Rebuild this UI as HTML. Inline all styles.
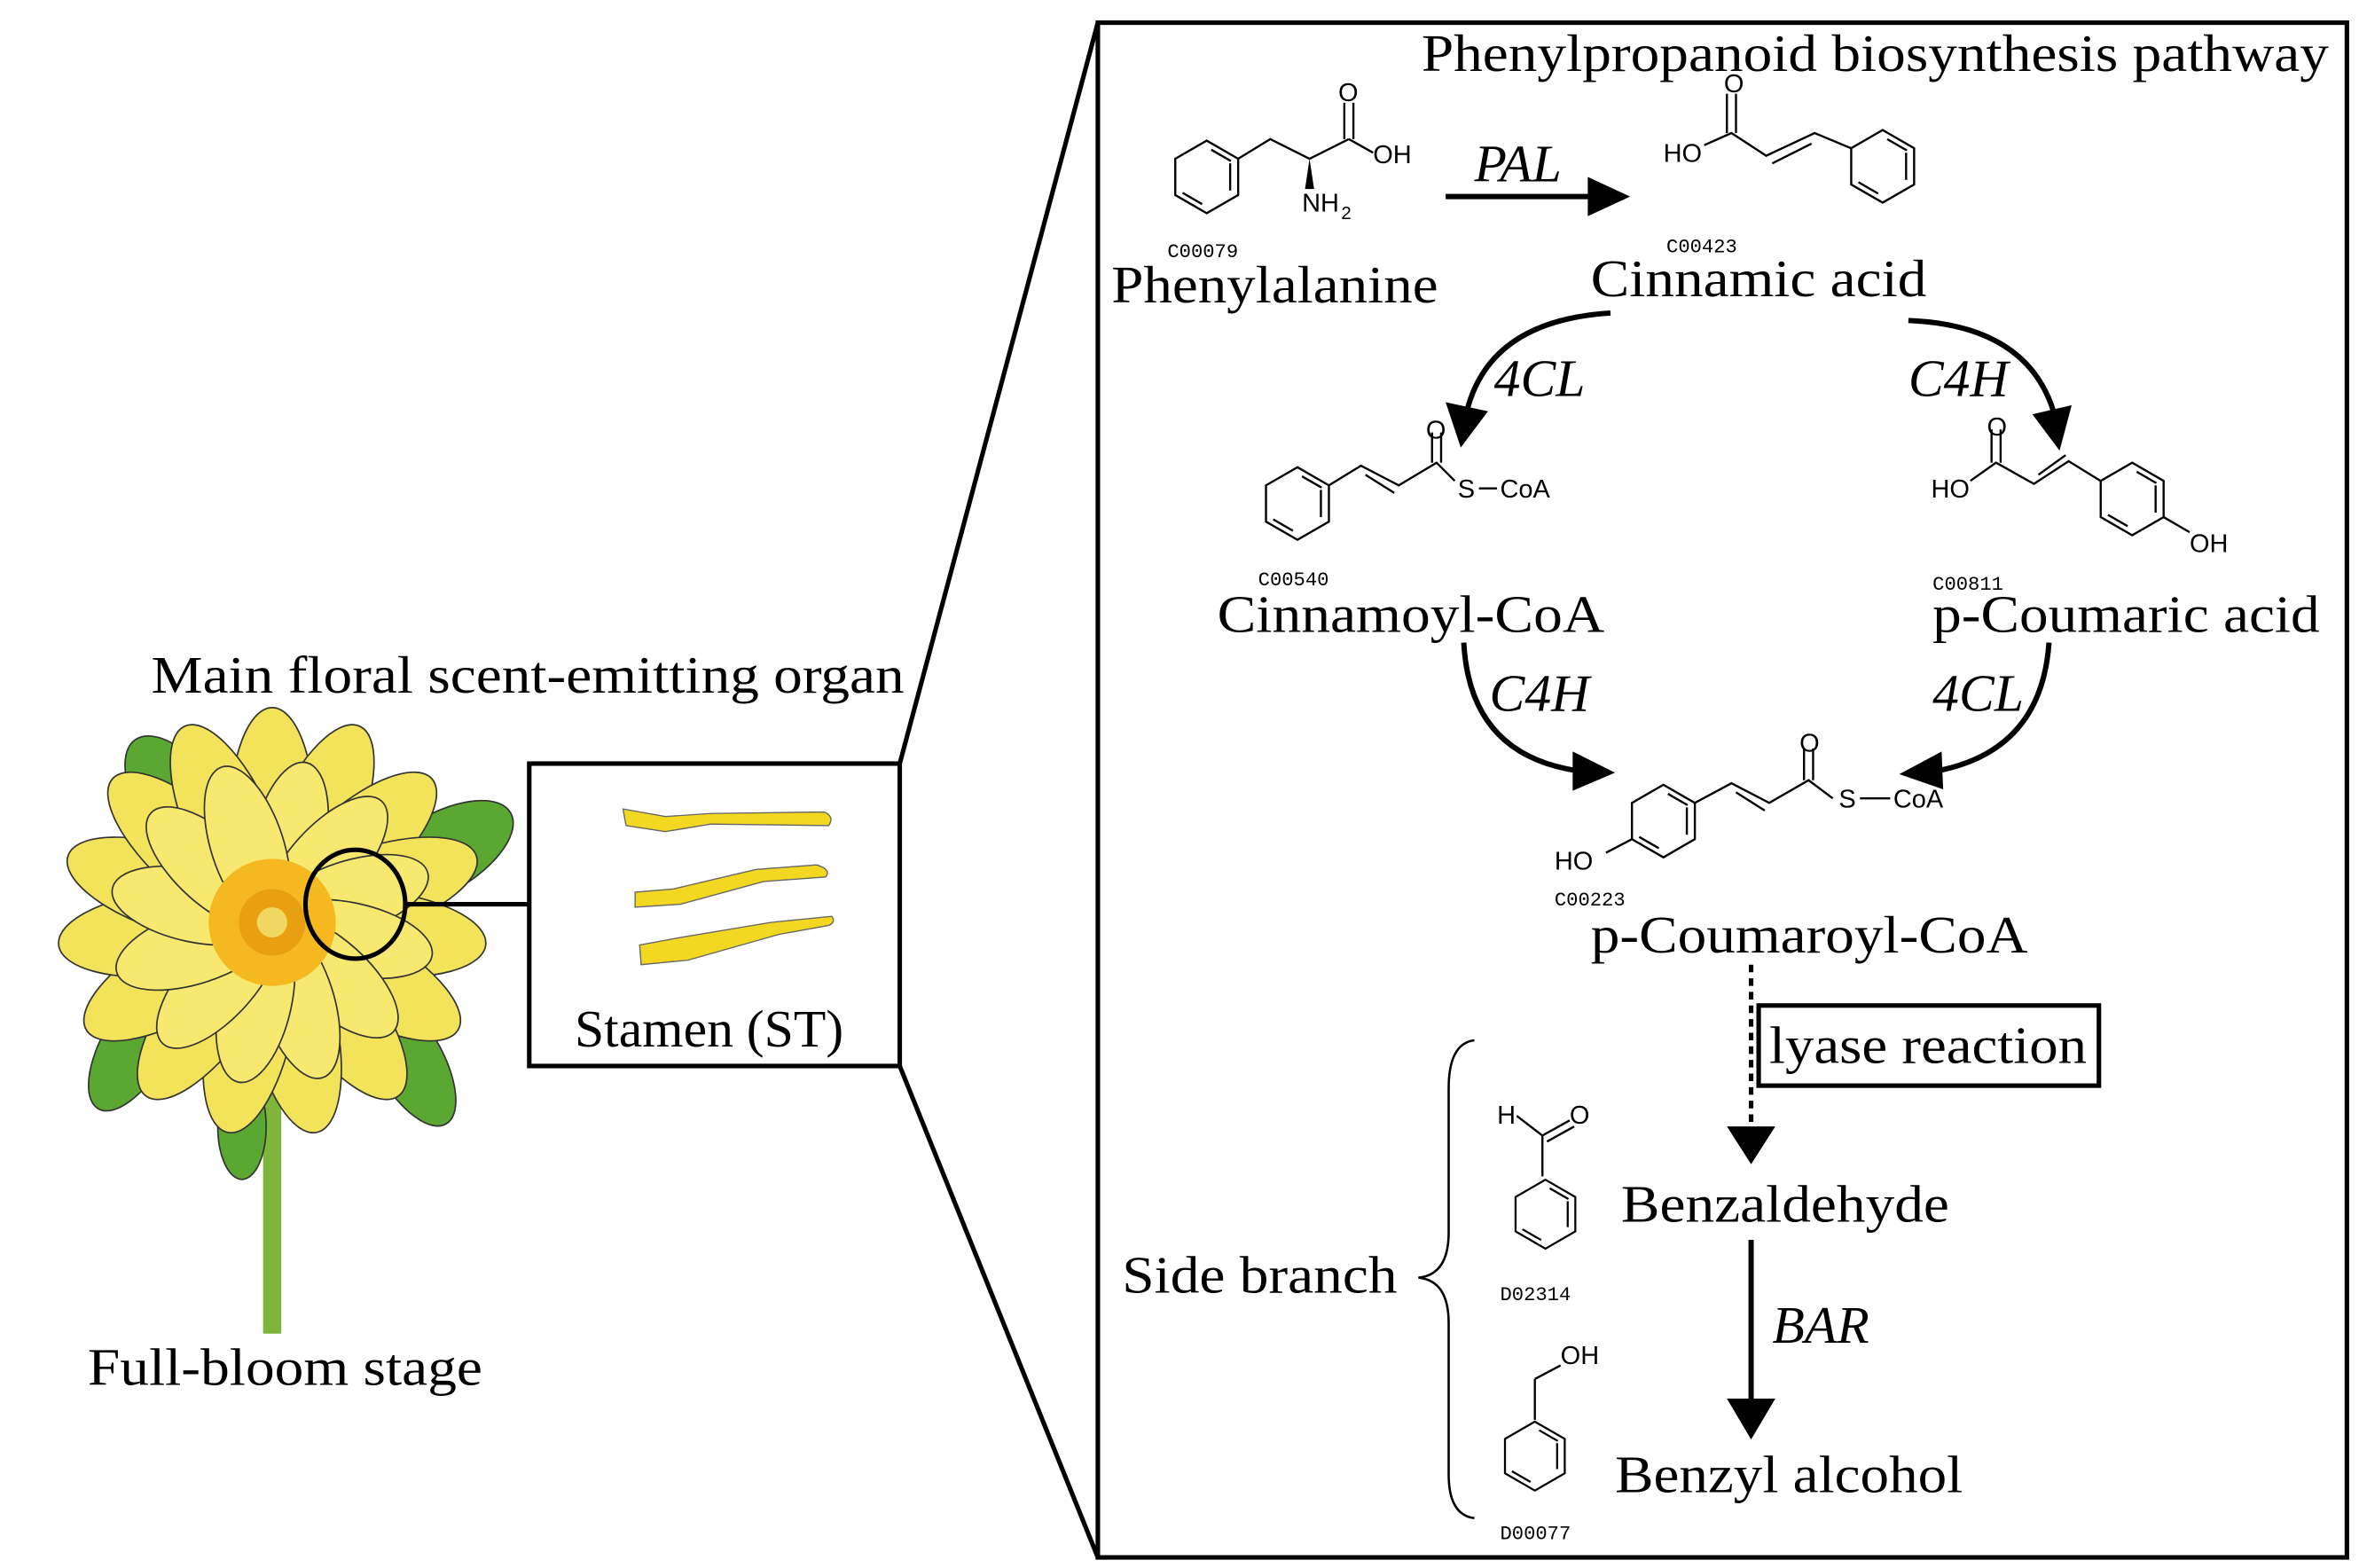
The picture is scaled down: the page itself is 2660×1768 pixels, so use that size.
<!DOCTYPE html>
<html><head><meta charset="utf-8"><style>
html,body{margin:0;padding:0;background:#fff;}
svg{display:block;}
.t{font-family:"Liberation Serif",serif;font-size:35px;fill:#000;}
.i{font-family:"Liberation Serif",serif;font-style:italic;font-size:35px;fill:#000;}
.a{font-family:"Liberation Sans",sans-serif;font-size:17px;fill:#000;}
.m{font-family:"Liberation Mono",monospace;font-size:13px;fill:#000;}
.b{stroke:#000;stroke-width:1.4;fill:none;}
</style></head><body>
<svg width="2660" height="1768" viewBox="0 0 1560 1037" preserveAspectRatio="none" xmlns="http://www.w3.org/2000/svg">
<defs>
<g id="bz" class="b">
<polygon points="0,-24 20.8,-12 20.8,12 0,24 -20.8,12 -20.8,-12"/>
<line x1="3" y1="-18" x2="16" y2="-10.5"/>
<line x1="15.5" y1="-9" x2="15.5" y2="9"/>
<line x1="-3" y1="18" x2="-16" y2="10.5"/>
</g>
</defs>
<rect width="1560" height="1037" fill="#fff"/>

<!-- Flower -->
<g stroke="#333" stroke-width="1">
<line x1="180" y1="720" x2="180" y2="882" stroke="#7db63a" stroke-width="12"/>
<ellipse cx="125" cy="540" rx="28" ry="62" fill="#5aa832" transform="rotate(-35 125 540)"/>
<ellipse cx="290" cy="565" rx="26" ry="55" fill="#5aa832" transform="rotate(60 290 565)"/>
<ellipse cx="90" cy="690" rx="22" ry="50" fill="#5aa832" transform="rotate(30 90 690)"/>
<ellipse cx="270" cy="700" rx="22" ry="50" fill="#5aa832" transform="rotate(-30 270 700)"/>
<ellipse cx="160" cy="745" rx="16" ry="35" fill="#5aa832"/>
<g fill="#f3e35a">
<ellipse cx="180" cy="540" rx="28" ry="72" transform="rotate(0 180 610)"/>
<ellipse cx="180" cy="540" rx="28" ry="72" transform="rotate(24 180 610)"/>
<ellipse cx="180" cy="540" rx="28" ry="72" transform="rotate(48 180 610)"/>
<ellipse cx="180" cy="540" rx="28" ry="72" transform="rotate(72 180 610)"/>
<ellipse cx="180" cy="540" rx="28" ry="72" transform="rotate(96 180 610)"/>
<ellipse cx="180" cy="540" rx="28" ry="72" transform="rotate(120 180 610)"/>
<ellipse cx="180" cy="540" rx="28" ry="72" transform="rotate(144 180 610)"/>
<ellipse cx="180" cy="540" rx="28" ry="72" transform="rotate(168 180 610)"/>
<ellipse cx="180" cy="540" rx="28" ry="72" transform="rotate(192 180 610)"/>
<ellipse cx="180" cy="540" rx="28" ry="72" transform="rotate(216 180 610)"/>
<ellipse cx="180" cy="540" rx="28" ry="72" transform="rotate(240 180 610)"/>
<ellipse cx="180" cy="540" rx="28" ry="72" transform="rotate(264 180 610)"/>
<ellipse cx="180" cy="540" rx="28" ry="72" transform="rotate(288 180 610)"/>
<ellipse cx="180" cy="540" rx="28" ry="72" transform="rotate(312 180 610)"/>
<ellipse cx="180" cy="540" rx="28" ry="72" transform="rotate(336 180 610)"/>
</g>
<g fill="#f7e970">
<ellipse cx="180" cy="557" rx="24" ry="55" transform="rotate(12 180 610)"/>
<ellipse cx="180" cy="557" rx="24" ry="55" transform="rotate(42 180 610)"/>
<ellipse cx="180" cy="557" rx="24" ry="55" transform="rotate(72 180 610)"/>
<ellipse cx="180" cy="557" rx="24" ry="55" transform="rotate(102 180 610)"/>
<ellipse cx="180" cy="557" rx="24" ry="55" transform="rotate(132 180 610)"/>
<ellipse cx="180" cy="557" rx="24" ry="55" transform="rotate(162 180 610)"/>
<ellipse cx="180" cy="557" rx="24" ry="55" transform="rotate(192 180 610)"/>
<ellipse cx="180" cy="557" rx="24" ry="55" transform="rotate(222 180 610)"/>
<ellipse cx="180" cy="557" rx="24" ry="55" transform="rotate(252 180 610)"/>
<ellipse cx="180" cy="557" rx="24" ry="55" transform="rotate(282 180 610)"/>
<ellipse cx="180" cy="557" rx="24" ry="55" transform="rotate(312 180 610)"/>
<ellipse cx="180" cy="557" rx="24" ry="55" transform="rotate(342 180 610)"/>
</g>
<circle cx="180" cy="610" r="42" fill="#f5b820" stroke="none"/>
<circle cx="180" cy="610" r="22" fill="#e8a010" stroke="none"/>
<circle cx="180" cy="610" r="10" fill="#f0d860" stroke="none"/>
</g>
<ellipse cx="235" cy="598" rx="33" ry="36" fill="none" stroke="#000" stroke-width="3"/>
<line x1="268" y1="598" x2="350" y2="598" stroke="#000" stroke-width="3"/>

<!-- stamen box -->
<rect x="350" y="505" width="245" height="200" fill="#fff" stroke="#000" stroke-width="3"/>
<g fill="#f2d820" stroke="#666" stroke-width="0.8">
<path d="M412,535 L440,540 L470,538 L545,537 Q552,540 548,546 L470,545 L440,550 L414,546 Z"/>
<path d="M420,590 L445,588 L500,575 L540,572 Q550,575 546,580 L505,583 L450,598 L420,600 Z"/>
<path d="M423,625 L450,620 L510,610 L550,606 Q553,610 548,612 L515,618 L455,635 L424,638 Z"/>
</g>
<text class="t" x="380" y="692">Stamen (ST)</text>
<text class="t" x="100" y="458" textLength="498" lengthAdjust="spacingAndGlyphs">Main floral scent-emitting organ</text>
<text class="t" x="58" y="916" textLength="261" lengthAdjust="spacingAndGlyphs">Full-bloom stage</text>

<!-- zoom lines -->
<line x1="595" y1="505" x2="726" y2="15" stroke="#000" stroke-width="3"/>
<line x1="595" y1="705" x2="726" y2="1030" stroke="#000" stroke-width="3"/>

<!-- main box -->
<rect x="726" y="15" width="826" height="1015" fill="none" stroke="#000" stroke-width="3"/>
<text class="t" x="940" y="47" textLength="600" lengthAdjust="spacingAndGlyphs">Phenylpropanoid biosynthesis pathway</text>

<!-- Phenylalanine -->
<use href="#bz" x="798" y="117"/>
<polyline class="b" points="818.8,105 840,92 866,105 892,92"/>
<line class="b" x1="889" y1="92" x2="889" y2="68"/><line class="b" x1="895" y1="92" x2="895" y2="68"/>
<text class="a" x="885" y="67">O</text>
<line class="b" x1="892" y1="92" x2="908" y2="101"/>
<text class="a" x="908" y="108">OH</text>
<polygon points="866,105 863,125 869,125" fill="#000"/>
<text class="a" x="861" y="140">NH</text><text class="a" x="887" y="145" style="font-size:12px">2</text>
<text class="m" x="772" y="170">C00079</text>
<text class="t" x="735" y="200" textLength="216" lengthAdjust="spacingAndGlyphs">Phenylalanine</text>

<!-- PAL -->
<line x1="956" y1="130" x2="1052" y2="130" stroke="#000" stroke-width="3.5"/>
<polygon points="1050,117 1078,130 1050,143" fill="#000"/>
<text class="i" x="975" y="120">PAL</text>

<!-- Cinnamic acid -->
<text class="a" x="1100" y="107">HO</text>
<polyline class="b" points="1127,96 1145,88 1168,103 1200,88 1224,98"/>
<line class="b" x1="1142" y1="88" x2="1142" y2="62"/><line class="b" x1="1148" y1="88" x2="1148" y2="62"/>
<text class="a" x="1140" y="61">O</text>
<line class="b" x1="1172" y1="108" x2="1198" y2="95"/>
<use href="#bz" x="1245" y="110"/>
<text class="m" x="1102" y="167">C00423</text>
<text class="t" x="1052" y="196" textLength="222" lengthAdjust="spacingAndGlyphs">Cinnamic acid</text>

<!-- curved arrows -->
<path d="M1065,207 Q985,212 970,272" fill="none" stroke="#000" stroke-width="3.5"/>
<polygon points="956,266 984,272 966,296" fill="#000"/>
<text class="i" x="988" y="262">4CL</text>
<path d="M1262,212 Q1340,215 1358,272" fill="none" stroke="#000" stroke-width="3.5"/>
<polygon points="1344,274 1370,268 1362,298" fill="#000"/>
<text class="i" x="1262" y="262">C4H</text>

<!-- Cinnamoyl-CoA -->
<use href="#bz" x="858" y="333"/>
<polyline class="b" points="878.8,321 900,308 925,321 950,306 962,318"/>
<line class="b" x1="903" y1="314" x2="922" y2="326"/>
<line class="b" x1="947" y1="306" x2="947" y2="286"/><line class="b" x1="953" y1="306" x2="953" y2="286"/>
<text class="a" x="943" y="290">O</text>
<text class="a" x="964" y="329">S</text><line class="b" x1="978" y1="323" x2="990" y2="323"/><text class="a" x="992" y="329">CoA</text>
<text class="m" x="832" y="387">C00540</text>
<text class="t" x="805" y="418" textLength="256" lengthAdjust="spacingAndGlyphs">Cinnamoyl-CoA</text>

<!-- p-Coumaric acid -->
<text class="a" x="1277" y="329">HO</text>
<polyline class="b" points="1303,318 1320,306 1345,320 1368,305 1389,318"/>
<line class="b" x1="1317" y1="306" x2="1317" y2="284"/><line class="b" x1="1323" y1="306" x2="1323" y2="284"/>
<text class="a" x="1314" y="288">O</text>
<line class="b" x1="1348" y1="314" x2="1366" y2="301"/>
<use href="#bz" x="1410" y="330"/>
<line class="b" x1="1430.8" y1="342" x2="1448" y2="352"/>
<text class="a" x="1448" y="365">OH</text>
<text class="m" x="1278" y="390">C00811</text>
<text class="t" x="1278" y="418" textLength="256" lengthAdjust="spacingAndGlyphs">p-Coumaric acid</text>

<!-- lower curved arrows -->
<path d="M968,425 Q972,500 1045,510" fill="none" stroke="#000" stroke-width="3.5"/>
<polygon points="1040,497 1068,511 1040,523" fill="#000"/>
<text class="i" x="985" y="470">C4H</text>
<path d="M1355,425 Q1350,497 1280,510" fill="none" stroke="#000" stroke-width="3.5"/>
<polygon points="1284,497 1256,512 1285,522" fill="#000"/>
<text class="i" x="1278" y="470">4CL</text>

<!-- p-Coumaroyl-CoA -->
<use href="#bz" x="1100" y="543"/>
<line class="b" x1="1079.2" y1="555" x2="1062" y2="564"/>
<text class="a" x="1028" y="575">HO</text>
<polyline class="b" points="1120.8,531 1145,518 1170,531 1196,516 1212,528"/>
<line class="b" x1="1148" y1="524" x2="1167" y2="536"/>
<line class="b" x1="1193" y1="516" x2="1193" y2="495"/><line class="b" x1="1199" y1="516" x2="1199" y2="495"/>
<text class="a" x="1190" y="497">O</text>
<text class="a" x="1216" y="534">S</text><line class="b" x1="1230" y1="528" x2="1250" y2="528"/><text class="a" x="1252" y="534">CoA</text>
<text class="m" x="1028" y="599">C00223</text>
<text class="t" x="1052" y="630" textLength="289" lengthAdjust="spacingAndGlyphs">p-Coumaroyl-CoA</text>

<!-- dotted arrow -->
<line x1="1158" y1="638" x2="1158" y2="745" stroke="#000" stroke-width="3" stroke-dasharray="5,4"/>
<polygon points="1142,745 1174,745 1158,770" fill="#000"/>
<rect x="1163" y="665" width="225" height="53" fill="none" stroke="#000" stroke-width="3"/>
<text class="t" x="1170" y="703" textLength="210" lengthAdjust="spacingAndGlyphs">lyase reaction</text>

<!-- Benzaldehyde -->
<text class="a" x="990" y="743">H</text>
<line class="b" x1="1003" y1="738" x2="1020" y2="751"/>
<line class="b" x1="1020" y1="751" x2="1038" y2="741"/><line class="b" x1="1023" y1="755" x2="1041" y2="745"/>
<text class="a" x="1038" y="743">O</text>
<line class="b" x1="1020" y1="751" x2="1020" y2="778"/>
<g transform="translate(1022,803) scale(0.95)"><use href="#bz"/></g>
<text class="m" x="992" y="860">D02314</text>
<text class="t" x="1072" y="808" textLength="217" lengthAdjust="spacingAndGlyphs">Benzaldehyde</text>

<!-- BAR -->
<line x1="1158" y1="820" x2="1158" y2="928" stroke="#000" stroke-width="3.5"/>
<polygon points="1142,925 1174,925 1158,952" fill="#000"/>
<text class="i" x="1172" y="888">BAR</text>

<!-- Benzyl alcohol -->
<line class="b" x1="1015" y1="939" x2="1015" y2="912"/>
<line class="b" x1="1015" y1="912" x2="1032" y2="903"/>
<text class="a" x="1032" y="902">OH</text>
<g transform="translate(1015,963) scale(0.95)"><use href="#bz"/></g>
<text class="m" x="992" y="1018">D00077</text>
<text class="t" x="1068" y="987" textLength="230" lengthAdjust="spacingAndGlyphs">Benzyl alcohol</text>

<!-- brace -->
<path d="M975,688 Q958,690 958,720 L958,815 Q958,843 938,845 Q958,847 958,875 L958,975 Q958,1002 975,1004" fill="none" stroke="#000" stroke-width="1.5"/>
<text class="t" x="742" y="855" textLength="182" lengthAdjust="spacingAndGlyphs">Side branch</text>
</svg>
</body></html>
